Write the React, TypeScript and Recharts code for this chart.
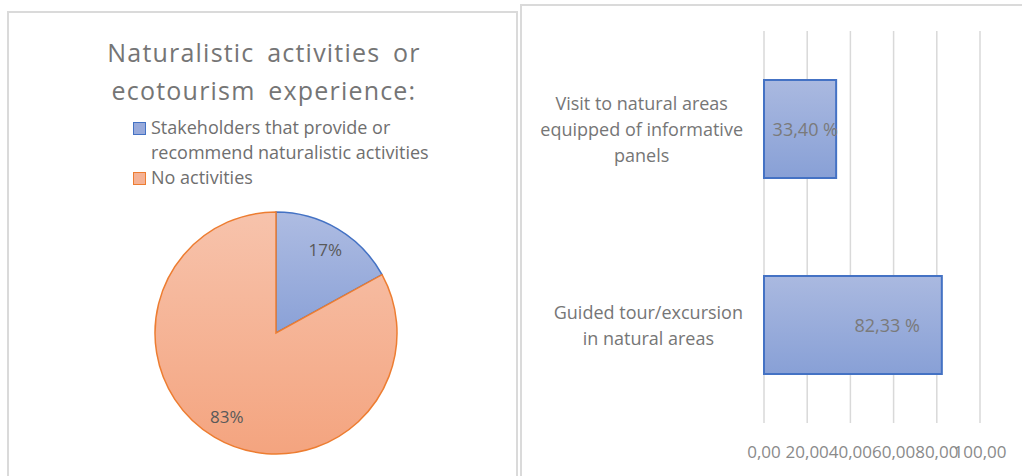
import React from 'react';
import { PieChart, Pie, Cell, Legend, BarChart, Bar, XAxis, YAxis, CartesianGrid, LabelList } from 'recharts';

// pie data
const pieTitle = ['Naturalistic activities or', 'ecotourism experience:'];
const pieCategories = ['Stakeholders that provide or recommend naturalistic activities', 'No activities'];
const pieValues = [17, 83];

// bar data
const barCategories = ['Visit to natural areas\nequipped of informative\npanels', 'Guided tour/excursion\nin natural areas'];
const barValues = [33.4, 82.33];
const xTicks = [0, 20, 40, 60, 80, 100];

const FONT = '"Open Sans", Lato, sans-serif';
const BLUE = '#4472C4';
const ORANGE = '#ED7D31';
const SWATCH = ['#98AADB', '#F5B295'];
const EDGE = [BLUE, ORANGE];

const pieData = pieCategories.map((name, i) => ({ name, value: pieValues[i] }));
const barData = barCategories.map((name, i) => ({ name, value: barValues[i] }));

const RAD = Math.PI / 180;

let ctx: CanvasRenderingContext2D | null = null;
function textWidth(s: string, font: string) {
  if (!ctx) ctx = document.createElement('canvas').getContext('2d');
  if (!ctx) return s.length * 9;
  ctx.font = font;
  return ctx.measureText(s).width;
}

function PieLabel(props: any) {
  const { cx, cy, midAngle, outerRadius, percent } = props;
  const r = outerRadius * 0.8;
  const x = cx + r * Math.cos(-midAngle * RAD);
  const y = cy + r * Math.sin(-midAngle * RAD);
  return (
    <text x={x} y={y} textAnchor="middle" dominantBaseline="central" fill="#595959" fontSize={17} fontFamily={FONT}>
      {Math.round(percent * 100)}%
    </text>
  );
}

function LegendBox({ payload }: any) {
  const items = [...(payload || [])].sort(
    (a: any, b: any) => pieCategories.indexOf(a.value) - pieCategories.indexOf(b.value)
  );
  return (
    <div style={{ fontFamily: FONT, fontSize: 18, color: '#6f6f6f', lineHeight: '25px', width: 310 }}>
      {items.map((p: any) => {
        const i = pieCategories.indexOf(p.value);
        return (
          <div key={p.value} style={{ display: 'flex', alignItems: 'flex-start' }}>
            <span
              style={{
                display: 'inline-block', width: 11, height: 11, marginTop: 7, marginRight: 5, flex: 'none',
                background: SWATCH[i], border: `1.5px solid ${EDGE[i]}`,
              }}
            />
            <span>{p.value}</span>
          </div>
        );
      })}
    </div>
  );
}

function CategoryTick(props: any) {
  const { x, y, payload } = props;
  const lines = String(payload.value).split('\n');
  const font = `18px ${FONT}`;
  const w = Math.max(...lines.map((l) => textWidth(l, font)));
  const lh = 26;
  const y0 = y - ((lines.length - 1) * lh) / 2;
  return (
    <text x={x - w / 2} y={y0} textAnchor="middle" fill="#767676" fontSize={18} fontFamily={FONT}>
      {lines.map((l, i) => (
        <tspan key={i} x={x - w / 2} y={y0 + i * lh} dominantBaseline="central">{l}</tspan>
      ))}
    </text>
  );
}

function BarValueLabel(props: any) {
  const { x, y, width, height, value } = props;
  const tx = Math.max(x + width - 22, x + 74);
  return (
    <text x={tx} y={y + height / 2} textAnchor="end" dominantBaseline="central" fill="#7a7a7a" fontSize={18} fontFamily={FONT}>
      {Number(value).toFixed(2).replace('.', ',')} %
    </text>
  );
}

export default function App() {
  return (
    <div style={{ position: 'absolute', left: 0, top: 0, width: 1022, height: 476, background: '#fff', overflow: 'hidden' }}>
      {/* left panel */}
      <div style={{ position: 'absolute', left: 7, top: 11, width: 511, height: 480, border: '2px solid #DADADA', boxSizing: 'border-box' }} />
      <div style={{ position: 'absolute', left: 9, top: 33, width: 510, textAlign: 'center', fontFamily: FONT, fontSize: 25, color: '#757575', lineHeight: '38px', letterSpacing: 1.2, wordSpacing: 5 }}>
        {pieTitle.map((t) => <div key={t}>{t}</div>)}
      </div>
      <div style={{ position: 'absolute', left: 9, top: 13, width: 510, height: 463 }}>
        <PieChart width={510} height={463} margin={{ top: 0, right: 0, bottom: 0, left: 0 }}>
          <defs>
            <linearGradient id="gBlue" x1="0" y1="0" x2="0" y2="1">
              <stop offset="0%" stopColor="#AEBCE2" />
              <stop offset="100%" stopColor="#8AA1D7" />
            </linearGradient>
            <linearGradient id="gOrange" x1="0" y1="0" x2="0" y2="1">
              <stop offset="0%" stopColor="#F7C3AC" />
              <stop offset="100%" stopColor="#F4A47F" />
            </linearGradient>
          </defs>
          <Legend
            verticalAlign="middle"
            align="center"
            layout="vertical"
            content={<LegendBox />}
            wrapperStyle={{ left: 124, top: 102, width: 310 }}
          />
          <Pie
            data={pieData}
            dataKey="value"
            nameKey="name"
            cx={267}
            cy={320}
            outerRadius={121}
            startAngle={90}
            endAngle={-270}
            label={PieLabel}
            labelLine={false}
            isAnimationActive={false}
          >
            <Cell fill="url(#gBlue)" stroke={BLUE} strokeWidth={1.5} />
            <Cell fill="url(#gOrange)" stroke={ORANGE} strokeWidth={1.5} />
          </Pie>
        </PieChart>
      </div>

      {/* right panel */}
      <div style={{ position: 'absolute', left: 520, top: 4, width: 520, height: 480, border: '2px solid #DADADA', boxSizing: 'border-box' }} />
      <div style={{ position: 'absolute', left: 522, top: 0 }}>
        <BarChart
          width={500}
          height={476}
          data={barData}
          layout="vertical"
          margin={{ top: 31, right: 42, bottom: 0, left: 0 }}
          barCategoryGap="25%"
        >
          <defs>
            <linearGradient id="gBar" x1="0" y1="0" x2="0" y2="1">
              <stop offset="0%" stopColor="#AAB9E0" />
              <stop offset="100%" stopColor="#88A0D6" />
            </linearGradient>
          </defs>
          <CartesianGrid horizontal={false} stroke="#D9D9D9" strokeWidth={1.5} />
          <XAxis
            type="number"
            domain={[0, 100]}
            ticks={xTicks}
            axisLine={false}
            tickLine={false}
            height={53}
            tickMargin={17}
            tickFormatter={(v: number) => v.toFixed(2).replace('.', ',')}
            tick={{ fill: '#8a8a8a', fontSize: 17, fontFamily: FONT }}
            interval={0}
          />
          <YAxis
            type="category"
            dataKey="name"
            width={242}
            axisLine={false}
            tickLine={false}
            tickMargin={15}
            tick={<CategoryTick />}
            interval={0}
          />
          <Bar dataKey="value" fill="url(#gBar)" stroke={BLUE} strokeWidth={2} isAnimationActive={false}>
            <LabelList dataKey="value" content={<BarValueLabel />} />
          </Bar>
        </BarChart>
      </div>
    </div>
  );
}
